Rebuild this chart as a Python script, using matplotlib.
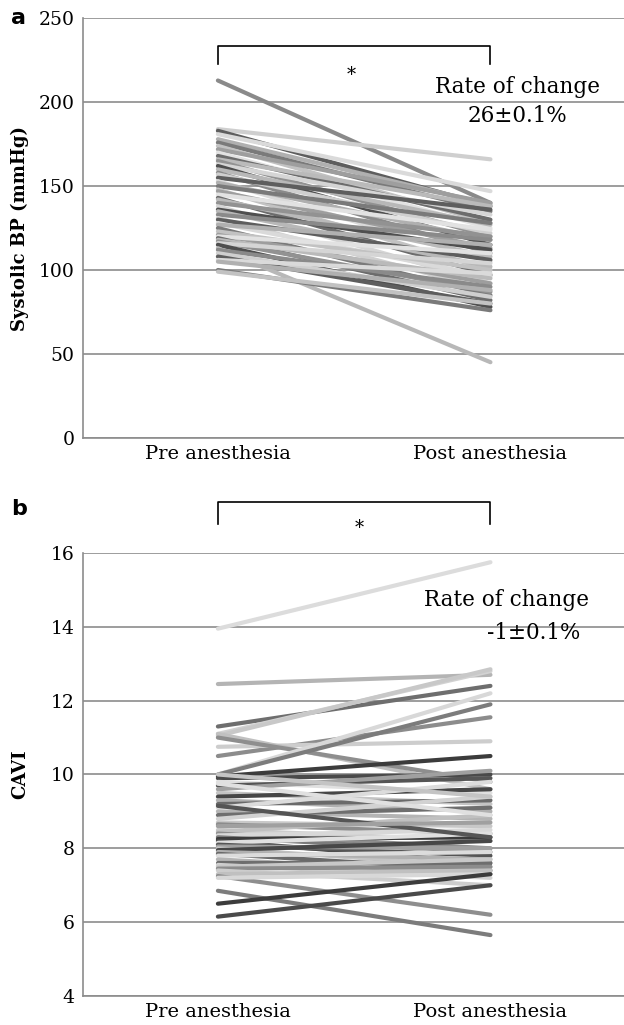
import matplotlib
matplotlib.use('Agg')
import matplotlib.pyplot as plt
import numpy as np

plt.rcParams['font.family'] = ['DejaVu Serif']

groups = ['Pre anesthesia', 'Post anesthesia']

# 収縮期血圧 (pre, post)
bp_pre = [213, 184, 183, 181, 178, 176, 174, 172, 170, 168, 166, 165, 163, 162,
          160, 158, 157, 155, 153, 152, 150, 148, 147, 145, 143, 142, 140, 138,
          136, 135, 133, 131, 130, 128, 127, 125, 123, 121, 120, 119, 118, 117,
          116, 115, 113, 112, 110, 108, 106, 105, 100, 99]
bp_post = [140, 166, 138, 147, 139, 135, 128, 140, 125, 130, 138, 120, 133, 115,
           127, 110, 122, 136, 105, 118, 128, 100, 113, 124, 97, 108, 120, 92,
           112, 102, 118, 88, 106, 96, 115, 85, 100, 92, 110, 82, 95, 87,
           104, 78, 45, 90, 84, 80, 98, 88, 76, 80]

# CAVI (pre, post)
cavi_pre = [13.95, 12.45, 11.3, 11.1, 11.05, 10.5, 10.75, 11.1, 11.0, 10.0, 10.0,
            9.95, 9.9, 9.8, 9.7, 9.6, 9.5, 9.4, 9.3, 9.2, 9.1, 9.0, 8.9, 8.8,
            8.7, 8.65, 8.5, 8.45, 8.4, 8.35, 8.3, 8.25, 8.2, 8.15, 8.1, 8.05,
            8.0, 7.95, 7.9, 7.85, 7.8, 7.7, 7.6, 7.55, 7.5, 7.45, 7.4, 7.3,
            7.25, 7.2, 6.85, 6.5, 6.15, 9.75, 9.15, 8.6, 10.0]
cavi_post = [15.75, 12.7, 12.4, 12.8, 12.85, 11.55, 10.9, 9.6, 9.8, 12.2, 11.9,
             10.5, 10.0, 9.5, 9.9, 10.1, 9.2, 9.6, 9.0, 9.3, 9.8, 8.8, 9.1, 9.4,
             8.6, 8.4, 8.2, 8.9, 8.0, 8.5, 7.9, 8.3, 7.6, 8.4, 7.8, 8.0,
             7.5, 8.2, 7.7, 7.4, 7.9, 7.3, 7.6, 7.2, 7.7, 7.5, 7.0, 7.4,
             6.2, 7.3, 5.65, 7.3, 7.0, 8.9, 8.3, 8.7, 9.4]

grays_a = ['#8a8a8a', '#cfcfcf', '#5e5e5e', '#dadada', '#b0b0b0', '#7a7a7a',
           '#c2c2c2', '#9e9e9e', '#e2e2e2', '#6c6c6c', '#bababa', '#929292',
           '#d5d5d5', '#4f4f4f', '#b8b8b8']
grays_b = ['#dcdcdc', '#b4b4b4', '#6e6e6e', '#d2d2d2', '#c8c8c8', '#8c8c8c',
           '#cdcdcd', '#c0c0c0', '#8e8e8e', '#d8d8d8', '#7c7c7c', '#3c3c3c',
           '#4a4a4a', '#e0e0e0', '#555555', '#a0a0a0', '#c4c4c4', '#474747',
           '#b0b0b0', '#6a6a6a']

fig = plt.figure(figsize=(6.24, 10.25), dpi=100)
ax1 = fig.add_axes([0.133, 0.573, 0.867, 0.409])
ax2 = fig.add_axes([0.133, 0.0283, 0.867, 0.4322])


def draw(ax, pre, post, cols, ylim, yticks, ylabel):
    for i, (a, b) in enumerate(zip(pre, post)):
        ax.plot([0, 1], [a, b], color=cols[i % len(cols)], lw=3,
                solid_capstyle='round', zorder=3)
    ax.set_xlim(-0.495, 1.49)
    ax.set_ylim(*ylim)
    ax.set_yticks(yticks)
    ax.set_xticks([0, 1])
    ax.set_xticklabels(groups, fontsize=14)
    ax.tick_params(axis='y', length=0, labelsize=13.5, pad=6)
    ax.tick_params(axis='x', length=0, pad=5)
    ax.yaxis.grid(True, color='#8c8c8c', lw=1.2)
    ax.set_axisbelow(True)
    for s in ['top', 'right']:
        ax.spines[s].set_visible(False)
    for s in ['left', 'bottom']:
        ax.spines[s].set_color('#8c8c8c')
        ax.spines[s].set_linewidth(1.2)
    ax.set_ylabel(ylabel, fontsize=13, fontweight='bold')
    ax.yaxis.set_label_coords(-0.1, 0.5)


draw(ax1, bp_pre, bp_post, grays_a, (0, 250), range(0, 251, 50), 'Systolic BP (mmHg)')
draw(ax2, cavi_pre, cavi_post, grays_b, (4, 16), range(4, 17, 2), 'CAVI')

# 有意差の括弧
ax1.plot([0, 0, 1, 1], [223, 233.5, 233.5, 223], color='k', lw=1.2, clip_on=False)
ax1.text(0.49, 216, '*', ha='center', va='center', fontsize=13)
ax1.text(1.1, 209, 'Rate of change', ha='center', va='center', fontsize=15.5)
ax1.text(1.1, 192, '26\u00b10.1%', ha='center', va='center', fontsize=15.5)

ax2.plot([0, 0, 1, 1], [16.79, 17.38, 17.38, 16.79], color='k', lw=1.2, clip_on=False)
ax2.text(0.52, 16.68, '*', ha='center', va='center', fontsize=13)
ax2.text(1.06, 14.73, 'Rate of change', ha='center', va='center', fontsize=15.5)
ax2.text(1.16, 13.83, '-1\u00b10.1%', ha='center', va='center', fontsize=15.5)

fig.text(0.018, 0.982, 'a', fontsize=16, fontweight='bold', family='DejaVu Sans',
         va='center', ha='left')
fig.text(0.018, 0.503, 'b', fontsize=16, fontweight='bold', family='DejaVu Sans',
         va='center', ha='left')

fig.savefig('out.png', dpi=100)
